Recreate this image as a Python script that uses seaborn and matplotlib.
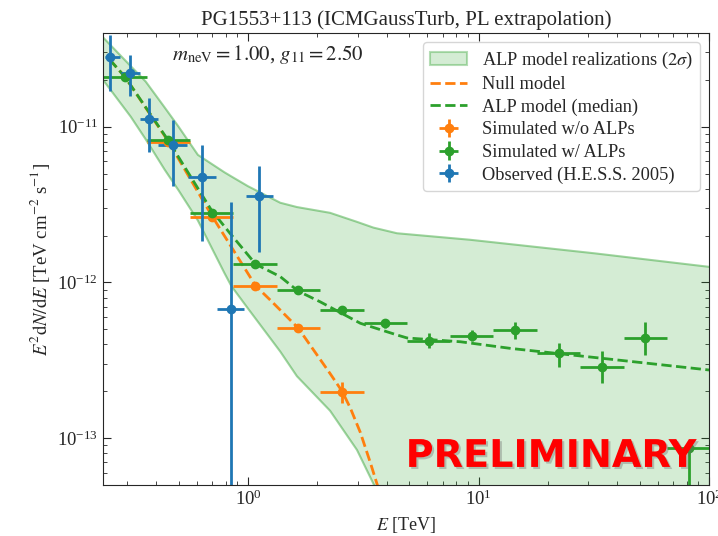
import numpy as np
import matplotlib
matplotlib.use("Agg")
import matplotlib.pyplot as plt
import matplotlib.patheffects as pe
import seaborn as sns

# --- data ---
# observed (H.E.S.S. 2005)
obs_e = [0.251, 0.307, 0.372, 0.473, 0.631, 0.841, 1.12]
obs_e_lo = [0.239, 0.282, 0.339, 0.408, 0.551, 0.731, 0.977]
obs_e_hi = [0.278, 0.339, 0.408, 0.541, 0.724, 0.964, 1.29]
obs_f = [2.79e-11, 2.23e-11, 1.12e-11, 7.66e-12, 4.75e-12, 6.73e-13, 3.61e-12]
obs_f_lo = [1.69e-11, 1.57e-11, 6.93e-12, 4.14e-12, 1.85e-12, 1e-16, 1.58e-12]
obs_f_hi = [3.9e-11, 2.9e-11, 1.53e-11, 1.11e-11, 7.66e-12, 3.31e-12, 5.63e-12]

# simulated bins
sim_e = [0.292, 0.45, 0.695, 1.07, 1.65, 2.56, 3.94, 6.08, 9.39, 14.4, 22.3, 34.5, 52.8, 81.9]
sim_e_lo = [0.235, 0.363, 0.56, 0.863, 1.33, 2.06, 3.17, 4.88, 7.55, 11.6, 17.9, 27.6, 42.6, 65.8]
sim_e_hi = [0.363, 0.56, 0.863, 1.33, 2.06, 3.17, 4.88, 7.55, 11.6, 17.9, 27.6, 42.6, 65.8, 101]

# simulated w/ ALPs
alp_f = [2.1e-11, 8.17e-12, 2.81e-12, 1.31e-12, 8.95e-13, 6.65e-13, 5.47e-13,
         4.22e-13, 4.53e-13, 4.95e-13, 3.5e-13, 2.88e-13, 4.42e-13, 8.6e-14]
alp_f_lo = [2.03e-11, 7.9e-12, 2.72e-12, 1.26e-12, 8.6e-13, 6.35e-13, 5.1e-13,
            3.77e-13, 4.22e-13, 4.33e-13, 2.88e-13, 2.25e-13, 3.42e-13, 1e-16]
alp_f_hi = [2.17e-11, 8.45e-12, 2.9e-12, 1.36e-12, 9.3e-13, 6.95e-13, 5.85e-13,
            4.71e-13, 4.95e-13, 5.61e-13, 4.1e-13, 3.63e-13, 5.56e-13, 9.3e-14]

# simulated w/o ALPs (bins 2..6)
null_e = [0.45, 0.695, 1.07, 1.65, 2.56]
null_e_lo = [0.363, 0.56, 0.863, 1.33, 2.06]
null_e_hi = [0.56, 0.863, 1.33, 2.06, 3.17]
null_f = [7.95e-12, 2.63e-12, 9.49e-13, 5.12e-13, 1.99e-13]
null_f_lo = [7.7e-12, 2.55e-12, 9.1e-13, 4.85e-13, 1.67e-13]
null_f_hi = [8.2e-12, 2.72e-12, 9.9e-13, 5.4e-13, 2.3e-13]

# model curves
null_line_e = [0.251, 0.292, 0.45, 0.695, 1.08, 1.25, 1.65, 2.27, 2.56, 2.78, 3.07, 3.39, 3.64, 4.0]
null_line_f = [2.7e-11, 2.1e-11, 8.1e-12, 2.7e-12, 9.5e-13, 7.7e-13, 5.1e-13, 2.6e-13,
               2.0e-13, 1.56e-13, 1.09e-13, 7.0e-14, 5.0e-14, 3.0e-14]
med_line_e = [0.251, 0.292, 0.45, 0.695, 0.835, 1.08, 1.38, 1.65, 2.06, 3.07, 4.43,
              4.9, 8.35, 13.8, 31.7, 100]
med_line_f = [2.7e-11, 2.1e-11, 8.2e-12, 2.9e-12, 2.07e-12, 1.31e-12, 1.09e-12, 8.8e-13,
              7.5e-13, 5.47e-13, 4.6e-13, 4.4e-13, 4.16e-13, 3.77e-13, 3.3e-13, 2.74e-13]

# 2 sigma band of ALP realizations
band_e = [0.235, 0.31, 0.36, 0.435, 0.5, 0.606, 0.79, 0.846, 1.0, 1.38, 1.63, 2.27,
          2.97, 3.5, 4.43, 9.2, 31.7, 100]
band_hi = [3.75e-11, 2.45e-11, 1.95e-11, 1.33e-11, 1.0e-11, 6.6e-12, 5.1e-12, 4.8e-12,
           4.15e-12, 3.25e-12, 3.05e-12, 2.8e-12, 2.45e-12, 2.25e-12, 2.07e-12,
           1.88e-12, 1.54e-12, 1.26e-12]
band_lo = [2.0e-11, 1.16e-11, 8.3e-12, 5.3e-12, 3.9e-12, 2.5e-12, 1.15e-12, 9.5e-13,
           6.8e-13, 3.6e-13, 2.5e-13, 1.5e-13, 8.4e-14, 5.1e-14, 2.5e-14, 1e-15,
           1e-15, 1e-15]

sns.set_style("ticks")
plt.rcParams["font.family"] = ["Liberation Serif", "DejaVu Serif"]
plt.rcParams["mathtext.fontset"] = "stix"
plt.rcParams["font.size"] = 13

blue, orange, green = "#1f77b4", "#ff7f0e", "#2ca02c"

fig, ax = plt.subplots(figsize=(7.18, 5.36), dpi=100)
fig.subplots_adjust(left=0.1435, right=0.9875, bottom=0.0951, top=0.9384)
ax.set_xscale("log")
ax.set_yscale("log")

ax.fill_between(band_e, band_lo, band_hi, facecolor=green, alpha=0.2, edgecolor="none")
ax.plot(band_e, band_hi, color=green, alpha=0.45, lw=1.5)
ax.plot(band_e, band_lo, color=green, alpha=0.45, lw=1.5)
band_handle = plt.Rectangle((0, 0), 1, 1, facecolor=(0.173, 0.627, 0.173, 0.2),
                            edgecolor=(0.173, 0.627, 0.173, 0.35), lw=1.5)

sns.lineplot(x=null_line_e, y=null_line_f, ax=ax, color=orange, linestyle="--",
             lw=2, label="Null model")
sns.lineplot(x=med_line_e, y=med_line_f, ax=ax, color=green, linestyle="--",
             lw=2, label="ALP model (median)")
h_null, h_med = ax.get_lines()[-2:]

def asym(center, lo, hi):
    c = np.array(center)
    return [c - np.array(lo), np.array(hi) - c]

e_null = ax.errorbar(null_e, null_f, xerr=asym(null_e, null_e_lo, null_e_hi),
                     yerr=asym(null_f, null_f_lo, null_f_hi), fmt="o", color=orange,
                     ms=6, elinewidth=2, capsize=0)
e_alp = ax.errorbar(sim_e, alp_f, xerr=asym(sim_e, sim_e_lo, sim_e_hi),
                    yerr=asym(alp_f, alp_f_lo, alp_f_hi), fmt="o", color=green,
                    ms=6, elinewidth=2, capsize=0)
e_obs = ax.errorbar(obs_e, obs_f, xerr=asym(obs_e, obs_e_lo, obs_e_hi),
                    yerr=asym(obs_f, obs_f_lo, obs_f_hi), fmt="o", color=blue,
                    ms=6, elinewidth=2, capsize=0)

ax.set_xlim(0.235, 100)
ax.set_ylim(5e-14, 4e-11)
ax.tick_params(which="both", direction="in", top=True, right=True, labelsize=13.5)
ax.tick_params(which="major", length=6)
ax.tick_params(which="minor", length=3)

ax.set_title("PG1553+113 (ICMGaussTurb, PL extrapolation)", fontsize=15)
ax.set_xlabel("$E$ [TeV]", fontsize=13)
ax.set_ylabel("$E^2\\mathrm{d}N/\\mathrm{d}E$ [TeV cm$^{-2}$ s$^{-1}$]", fontsize=13.5)
ax.text(0.272, 0.978, "$m_\\mathrm{neV}=1.00$, $g_{11}=2.50$", transform=ax.transAxes,
        ha="center", va="top", fontsize=15)

ax.legend([band_handle, h_null, h_med, e_null, e_alp, e_obs],
          ["ALP model realizations ($2\\sigma$)", "Null model", "ALP model (median)",
           "Simulated w/o ALPs", "Simulated w/ ALPs", "Observed (H.E.S.S. 2005)"],
          loc="upper right", fontsize=13.2, labelspacing=0.3)

ax.text(0.98, 0.04, "PRELIMINARY", transform=ax.transAxes, ha="right", va="baseline",
        fontsize=27.5, fontweight="bold", family="DejaVu Sans", color="red", zorder=10,
        path_effects=[pe.SimplePatchShadow(offset=(1.5, -1.5), shadow_rgbFace="0.4", alpha=0.35),
                      pe.Normal()])

fig.savefig("out.png", dpi=100)
